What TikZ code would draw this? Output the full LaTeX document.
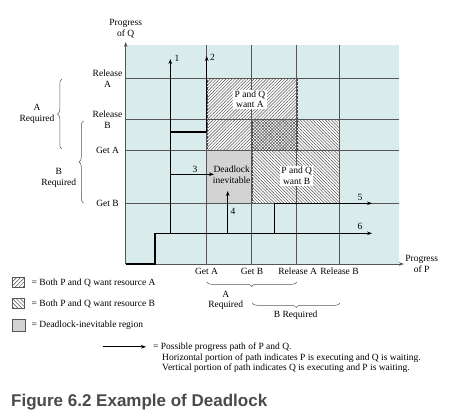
\documentclass[tikz,border=0pt]{standalone}
\usepackage{fontspec}
\setmainfont{Liberation Serif}
\newfontfamily\titlefont{Liberation Sans}
\usetikzlibrary{patterns.meta,decorations.pathreplacing,arrows.meta}
\definecolor{bgblue}{HTML}{DAEBEB}
\definecolor{gridc}{HTML}{555555}
\definecolor{deadgray}{HTML}{D3D3D3}
\definecolor{titlec}{HTML}{4A4A4A}
\definecolor{hatchc}{HTML}{4A4A4A}
\begin{document}
\begin{tikzpicture}[x=1pt,y=-1pt,
  lbl/.style={font=\fontsize{9.5}{10.5}\selectfont, align=center, inner sep=0pt},
  gridline/.style={gridc, line width=0.6pt},
  ppath/.style={black, line width=1.1pt, -{Stealth[length=5pt,width=3.6pt]}},
  hatchA/.style={pattern={Lines[angle=45,distance=2.2pt,line width=0.45pt]}, pattern color=hatchc},
  hatchB/.style={pattern={Lines[angle=-45,distance=2.2pt,line width=0.45pt]}, pattern color=hatchc},
  lhatchA/.style={pattern={Lines[angle=45,distance=2.8pt,line width=0.5pt]}, pattern color=hatchc},
  lhatchB/.style={pattern={Lines[angle=-45,distance=2.8pt,line width=0.5pt]}, pattern color=hatchc},
  bracestyle/.style={decorate, decoration={brace, amplitude=4.5pt}, gridc, line width=0.5pt},
]
\useasboundingbox (0,0) rectangle (453,417);

% background plot area
\fill[bgblue] (125.7,45) rectangle (399.3,264);

% hatched regions
\fill[white] (206.7,78.3) rectangle (296.7,150);
\fill[white] (251.7,119.3) rectangle (339.3,203.3);
\fill[hatchA] (206.7,78.3) rectangle (296.7,150);
\fill[hatchB] (251.7,119.3) rectangle (339.3,203.3);
\draw[hatchc, densely dotted, line width=0.4pt] (206.7,78.3) rectangle (296.7,150);
\draw[hatchc, densely dotted, line width=0.4pt] (251.7,119.3) rectangle (339.3,203.3);
% deadlock region
\fill[deadgray] (206.7,150) rectangle (251.7,203.3);

% grid lines
\foreach \yy in {78.3,119.3,150,203.3} \draw[gridline] (125.7,\yy) -- (399.3,\yy);
\foreach \xx in {206.7,251.7,296.7,339.3} \draw[gridline] (\xx,45) -- (\xx,264);

% axes
\coordinate (O) at (125.7,264);
\coordinate (ytip) at (125.7,42);
\coordinate (xtip) at (404,264);
\draw[gridc, line width=0.8pt, -{Stealth[length=5pt,width=3.6pt]}] (O) -- (ytip);
\draw[gridc, line width=0.8pt, -{Stealth[length=5pt,width=3.6pt]}] (O) -- (xtip);

% paths
\coordinate (p6a) at (155,264);
\coordinate (p6b) at (155,233.3);
\coordinate (p6e) at (372,233.3);
\draw[ppath] (O) -- (p6a) -- (p6b) -- (p6e);
\coordinate (p1a) at (170.3,233.3);
\coordinate (p1e) at (170.3,59);
\draw[ppath] (p1a) -- (p1e);
\coordinate (p2a) at (170.3,132);
\coordinate (p2b) at (206.7,132);
\coordinate (p2e) at (206.7,56);
\draw[ppath] (p2a) -- (p2b) -- (p2e);
\coordinate (p3a) at (170.3,174.3);
\coordinate (p3e) at (214,174.3);
\draw[ppath] (p3a) -- (p3e);
\coordinate (p4a) at (227.7,233.3);
\coordinate (p4e) at (227.7,191);
\draw[ppath] (p4a) -- (p4e);
\coordinate (p5a) at (274.3,233.3);
\coordinate (p5b) at (274.3,203.3);
\coordinate (p5e) at (372,203.3);
\draw[ppath] (p5a) -- (p5b) -- (p5e);

% path numbers
\node[lbl] (n1) at (177,58) {1};
\node[lbl] (n2) at (212.5,57) {2};
\node[lbl] (n3) at (195,169) {3};
\node[lbl] (n4) at (233,211.5) {4};
\node[lbl] (n5) at (360,197) {5};
\node[lbl] (n6) at (360,226) {6};

% region labels
\node[lbl, fill=white, inner sep=1.2pt] (wantA) at (250,99.3) {P and Q\\want A};
\node[lbl, fill=white, inner sep=1.2pt] (wantB) at (296.7,176) {P and Q\\want B};
\node[lbl] (dead) at (231.7,175) {Deadlock\\inevitable};

% axis titles
\node[lbl] (progQ) at (125.7,28.5) {Progress\\of Q};
\node[lbl] (progP) at (421.7,264) {Progress\\of P};

% y-axis labels
\node[lbl] (relA) at (107.5,78.5) {Release\\A};
\node[lbl] (relB) at (107.5,119.5) {Release\\B};
\node[lbl] (getA) at (107.5,150) {Get A};
\node[lbl] (getB) at (107.5,203.3) {Get B};

% x-axis labels
\node[lbl] (xgetA) at (206.5,271.7) {Get A};
\node[lbl] (xgetB) at (252,271.7) {Get B};
\node[lbl] (xrelA) at (297.7,271.7) {Release A};
\node[lbl] (xrelB) at (339.5,271.7) {Release B};

% left braces
\coordinate (bA1) at (62,149);
\coordinate (bA2) at (62,79);
\draw[bracestyle] (bA1) -- (bA2);
\node[lbl] (reqA) at (37,114) {A\\Required};
\coordinate (bB1) at (83.5,203);
\coordinate (bB2) at (83.5,121);
\draw[bracestyle] (bB1) -- (bB2);
\node[lbl] (reqB) at (58.8,177.7) {B\\Required};

% bottom braces
\coordinate (cA1) at (296.7,282);
\coordinate (cA2) at (206.7,282);
\draw[bracestyle] (cA1) -- (cA2);
\node[lbl] (breqA) at (225.7,300.5) {A\\Required};
\coordinate (cB1) at (340,303);
\coordinate (cB2) at (252.3,303);
\draw[bracestyle] (cB1) -- (cB2);
\node[lbl] (breqB) at (295.7,315.7) {B Required};

% legend
\draw[gridc, line width=0.5pt, fill=white] (12.3,277.3) rectangle (24.3,287.3);
\fill[lhatchA] (12.3,277.3) rectangle (24.3,287.3);
\draw[gridc, line width=0.5pt] (12.3,277.3) rectangle (24.3,287.3);
\node[lbl, anchor=west] (legA) at (31.5,282.5) {= Both P and Q want resource A};
\draw[gridc, line width=0.5pt, fill=white] (12.3,298.3) rectangle (24.3,308.3);
\fill[lhatchB] (12.3,298.3) rectangle (24.3,308.3);
\draw[gridc, line width=0.5pt] (12.3,298.3) rectangle (24.3,308.3);
\node[lbl, anchor=west] (legB) at (31.5,303.5) {= Both P and Q want resource B};
\draw[gridc, line width=0.5pt, fill=deadgray] (12.3,319.5) rectangle (25.3,331.5);
\node[lbl, anchor=west] (legD) at (31.5,325.3) {= Deadlock-inevitable region};

\coordinate (la) at (102.7,346.8);
\coordinate (lb) at (146,346.8);
\draw[ppath] (la) -- (lb);
\node[lbl, anchor=west] (legP1) at (153,347.3) {= Possible progress path of P and Q.};
\node[lbl, anchor=west] (legP2) at (162,358.3) {Horizontal portion of path indicates P is executing and Q is waiting.};
\node[lbl, anchor=west] (legP3) at (162,368.3) {Vertical portion of path indicates Q is executing and P is waiting.};

% title
\node[anchor=base west, inner sep=0pt, text=titlec, font=\titlefont\bfseries\fontsize{17}{20}\selectfont] (title) at (11,406.5) {Figure 6.2 Example of Deadlock};
\end{tikzpicture}
\end{document}
